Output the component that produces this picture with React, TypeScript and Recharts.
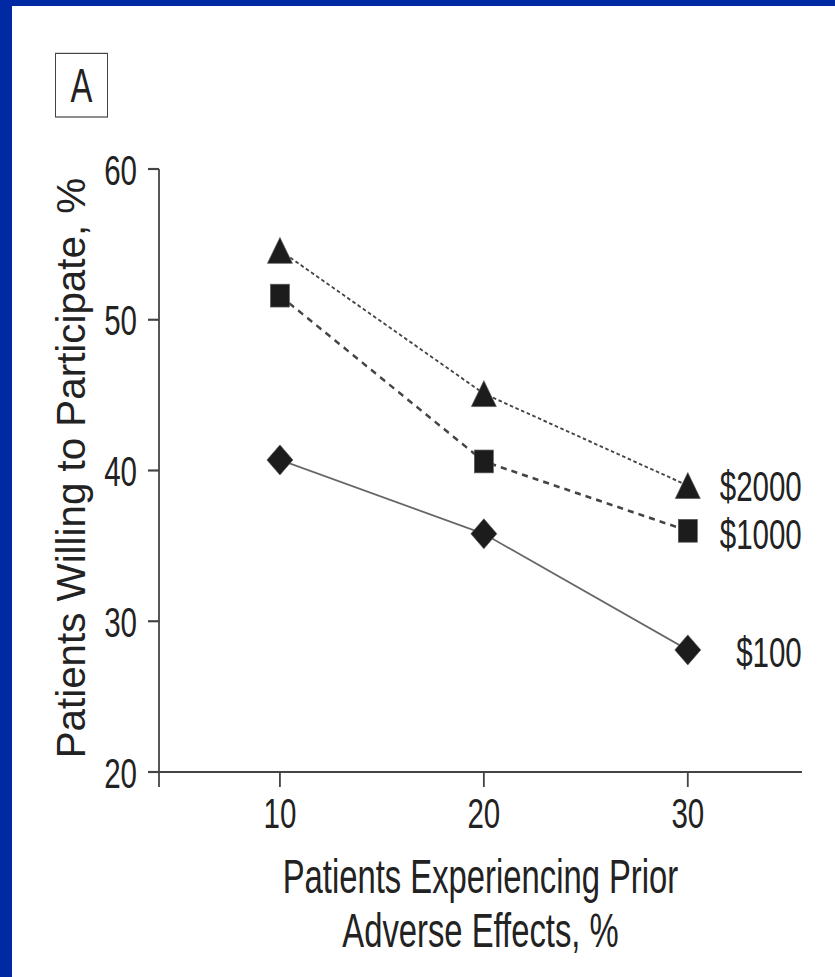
import React from "react";
import { LineChart, Line, XAxis, YAxis, LabelList } from "recharts";

// ---- data ----
const adverseEffects = [10, 20, 30];
const pay2000 = [54.6, 45.1, 39.0];
const pay1000 = [51.6, 40.6, 36.0];
const pay100 = [40.7, 35.8, 28.1];
const seriesNames = ["$2000", "$1000", "$100"];
const xTicks = [10, 20, 30];
const yTicks = [20, 30, 40, 50, 60];
const X_DOMAIN: [number, number] = [4.07, 35.6];
const Y_DOMAIN: [number, number] = [20, 60];
const xTitleLines = ["Patients Experiencing Prior", "Adverse Effects, %"];
const yTitle = "Patients Willing to Participate, %";
const panelLetter = "A";

const data = adverseEffects.map((x, i) => ({
  x,
  p2000: pay2000[i],
  p1000: pay1000[i],
  p100: pay100[i],
}));

// ---- layout / style ----
const S = 1.2; // vertical stretch of the original picture
const NX = 0.82; // condensed type
const W = 835;
const H = 977 / S;
const FONT = "'Liberation Sans', Arial, Helvetica, sans-serif";
const TEXT = "#222";
const AXIS = "#444";
const MARK = "#1c1c1c";

const narrow = (x: number, y: number) => `translate(${x},${y}) scale(${NX},1) translate(${-x},${-y})`;

const Triangle = (p: any) => {
  const { cx, cy, index } = p;
  if (cx == null || cy == null) return <g key={`t${index}`} />;
  const h = 10.8;
  const w = 12.5;
  return (
    <path
      key={`t${index}`}
      d={`M${cx},${cy - h}L${cx + w},${cy + h}L${cx - w},${cy + h}Z`}
      fill={MARK}
      stroke="#555"
      strokeWidth={0.6}
    />
  );
};

const Square = (p: any) => {
  const { cx, cy, index } = p;
  if (cx == null || cy == null) return <g key={`s${index}`} />;
  const a = 9.5;
  return (
    <rect key={`s${index}`} x={cx - a} y={cy - a} width={2 * a} height={2 * a} fill={MARK} stroke="#555" strokeWidth={0.6} />
  );
};

const Diamond = (p: any) => {
  const { cx, cy, index } = p;
  if (cx == null || cy == null) return <g key={`d${index}`} />;
  const w = 13;
  const h = 12.5;
  return (
    <path
      key={`d${index}`}
      d={`M${cx},${cy - h}L${cx + w},${cy}L${cx},${cy + h}L${cx - w},${cy}Z`}
      fill={MARK}
      stroke="#555"
      strokeWidth={0.6}
    />
  );
};

const XTick = (p: any) => {
  const { x, y, payload } = p;
  if (!xTicks.includes(payload.value)) return <g />;
  return (
    <text x={x} y={y} dy="0.71em" textAnchor="middle" fill={TEXT} fontSize={36} fontFamily={FONT} transform={narrow(x, y)}>
      {payload.value}
    </text>
  );
};

const YTick = (p: any) => {
  const { x, y, payload } = p;
  return (
    <text x={x} y={y} dy="0.36em" textAnchor="end" fill={TEXT} fontSize={36} fontFamily={FONT} transform={narrow(x, y)}>
      {payload.value}
    </text>
  );
};

const XTitle = (p: any) => {
  const vb = p.viewBox || { x: 159, y: 643, width: 643, height: 170 };
  const cx = vb.x + vb.width / 2;
  return (
    <text textAnchor="middle" fill={TEXT} fontSize={40} fontFamily={FONT} transform={narrow(cx, vb.y)}>
      <tspan x={cx} y={vb.y + 101}>{xTitleLines[0]}</tspan>
      <tspan x={cx} y={vb.y + 146}>{xTitleLines[1]}</tspan>
    </text>
  );
};

const YTitle = (p: any) => {
  const vb = p.viewBox || { x: 0, y: 141, width: 159, height: 502 };
  const cy = vb.y + vb.height / 2 - 2;
  const bx = 85;
  return (
    <text
      x={bx}
      y={cy}
      transform={`rotate(-90, ${bx}, ${cy}) ${narrow(bx, cy)}`}
      textAnchor="middle"
      fill={TEXT}
      fontSize={41}
      fontFamily={FONT}
    >
      {yTitle}
    </text>
  );
};

const endLabel = (name: string, adj: number) => (p: any) => {
  const { x, y, index } = p;
  if (index !== data.length - 1 || x == null || y == null) return <g key={`l${name}${index}`} />;
  const tx = x + 114;
  const ty = y + adj;
  return (
    <text
      key={`l${name}${index}`}
      x={tx}
      y={ty}
      dy="0.36em"
      textAnchor="end"
      fill={TEXT}
      fontSize={36}
      fontFamily={FONT}
      transform={narrow(tx, ty)}
    >
      {name}
    </text>
  );
};

export default function App() {
  const plotTop = 169 / S;
  const plotBottom = 772 / S;
  const xAxisHeight = H - plotBottom;
  return (
    <div style={{ position: "absolute", left: 0, top: 0, width: W, height: 977, background: "#fff", overflow: "hidden" }}>
      <div style={{ position: "absolute", left: 0, top: 0, width: 12, height: 977, background: "#0029A3" }} />
      <div style={{ position: "absolute", left: 0, top: 0, width: W, height: 6, background: "#0029A3" }} />
      <div
        style={{
          position: "absolute",
          left: 0,
          top: 0,
          width: W,
          height: H,
          transform: `scaleY(${S})`,
          transformOrigin: "0 0",
        }}
      >
        <div
          style={{
            position: "absolute",
            left: 55,
            top: 53 / S,
            width: 53,
            height: (118 - 53) / S,
            boxSizing: "border-box",
            border: `1.6px solid ${AXIS}`,
            display: "flex",
            alignItems: "center",
            justifyContent: "center",
          }}
        >
          <span
            style={{
              fontFamily: FONT,
              fontSize: 40,
              color: TEXT,
              lineHeight: 1,
              display: "inline-block",
              transform: `scaleX(${NX})`,
            }}
          >
            {panelLetter}
          </span>
        </div>
        <LineChart
          width={W}
          height={H}
          data={data}
          margin={{ top: plotTop, right: W - 802, bottom: 0, left: 0 }}
        >
          <XAxis
            type="number"
            dataKey="x"
            domain={X_DOMAIN}
            ticks={[X_DOMAIN[0], ...xTicks]}
            tick={<XTick />}
            tickSize={12.5}
            tickMargin={8.4}
            height={xAxisHeight}
            axisLine={{ stroke: AXIS, strokeWidth: 1.8 }}
            tickLine={{ stroke: AXIS, strokeWidth: 1.8 }}
            allowDataOverflow
            interval={0}
            label={<XTitle />}
          />
          <YAxis
            type="number"
            domain={Y_DOMAIN}
            ticks={yTicks}
            width={159}
            tickSize={11}
            tickMargin={11}
            interval={0}
            axisLine={{ stroke: AXIS, strokeWidth: 1.8 }}
            tickLine={{ stroke: AXIS, strokeWidth: 1.8 }}
            tick={<YTick />}
            allowDataOverflow
            label={<YTitle />}
          />
          <Line
            type="linear"
            dataKey="p2000"
            stroke="#444"
            strokeWidth={1.6}
            strokeDasharray="3.5 2.5"
            dot={Triangle}
            activeDot={false}
            isAnimationActive={false}
          >
            <LabelList dataKey="p2000" content={endLabel(seriesNames[0], 0)} />
          </Line>
          <Line
            type="linear"
            dataKey="p1000"
            stroke="#444"
            strokeWidth={2.2}
            strokeDasharray="6 5"
            dot={Square}
            activeDot={false}
            isAnimationActive={false}
          >
            <LabelList dataKey="p1000" content={endLabel(seriesNames[1], 2.5)} />
          </Line>
          <Line
            type="linear"
            dataKey="p100"
            stroke="#666"
            strokeWidth={1.5}
            dot={Diamond}
            activeDot={false}
            isAnimationActive={false}
          >
            <LabelList dataKey="p100" content={endLabel(seriesNames[2], 1.5)} />
          </Line>
        </LineChart>
      </div>
    </div>
  );
}
